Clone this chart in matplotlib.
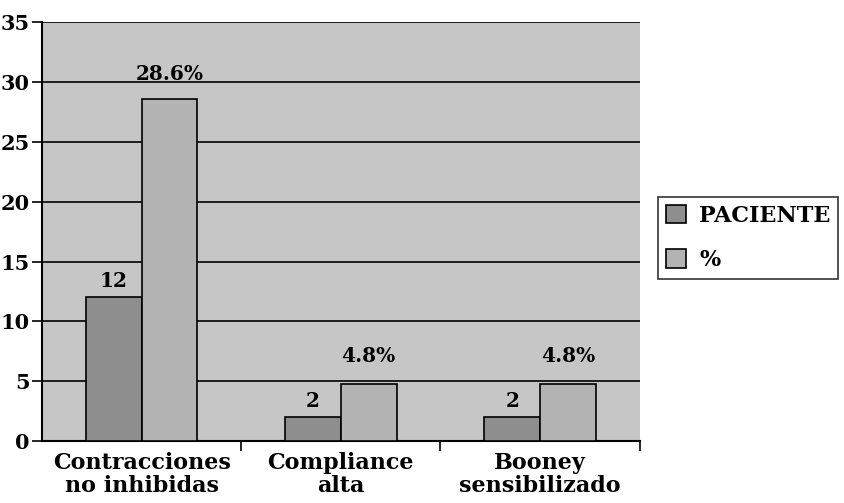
import numpy as np
import matplotlib.pyplot as plt

categories = ['Contracciones\nno inhibidas', 'Compliance\nalta', 'Booney\nsensibilizado']
paciente = [12, 2, 2]
porcentaje = [28.6, 4.8, 4.8]
paciente_labels = ['12', '2', '2']
porcentaje_labels = ['28.6%', '4.8%', '4.8%']
yticks = [0, 5, 10, 15, 20, 25, 30, 35]

plt.rcParams['font.family'] = ['DejaVu Serif']
plt.rcParams['font.weight'] = 'bold'

fig = plt.figure(figsize=(8.45, 5.03), dpi=100)
ax = fig.add_axes([0.0497, 0.123, 0.7073, 0.833])
ax.set_facecolor('#c6c6c6')

x = np.arange(len(categories))
w = 0.28
ax.bar(x - w / 2, paciente, w, color='#8e8e8e', edgecolor='black', linewidth=1.2,
       label='PACIENTE', zorder=3)
ax.bar(x + w / 2, porcentaje, w, color='#b3b3b3', edgecolor='black', linewidth=1.2,
       label='%', zorder=3)

for xi, v, s in zip(x, paciente, paciente_labels):
    ax.text(xi - w / 2, v + 0.85, s, ha='center', va='baseline', fontsize=14.5)
for xi, v, s in zip(x, porcentaje, porcentaje_labels):
    ax.text(xi + w / 2, max(v, 5) + 1.6, s, ha='center', va='baseline', fontsize=14.5)

ax.set_ylim(0, 35)
ax.set_xlim(-0.5, 2.5)
ax.set_yticks(yticks)
ax.set_yticklabels([str(t) for t in yticks], fontsize=15)
ax.yaxis.grid(True, color='black', linewidth=1.2, zorder=1)
ax.set_axisbelow(True)

ax.set_xticks(x)
ax.set_xticklabels(categories, fontsize=16, linespacing=1.05)
ax.tick_params(axis='x', length=0, pad=8)
ax.set_xticks([0.5, 1.5, 2.5], minor=True)
ax.tick_params(axis='x', which='minor', length=7, width=1.2)
ax.tick_params(axis='y', length=7, width=1.2, pad=2)

for side in ['top', 'right']:
    ax.spines[side].set_visible(False)
for side in ['left', 'bottom']:
    ax.spines[side].set_linewidth(1.5)

leg = fig.legend(loc='upper left', bbox_to_anchor=(658 / 845, 1 - 197 / 503),
                 fontsize=16, frameon=True, fancybox=False, edgecolor='black',
                 handlelength=0.9, handleheight=0.9, handletextpad=0.6,
                 labelspacing=1.0, borderpad=0.35, borderaxespad=0)
leg.get_frame().set_linewidth(1.2)

fig.savefig('out.png', dpi=100)
